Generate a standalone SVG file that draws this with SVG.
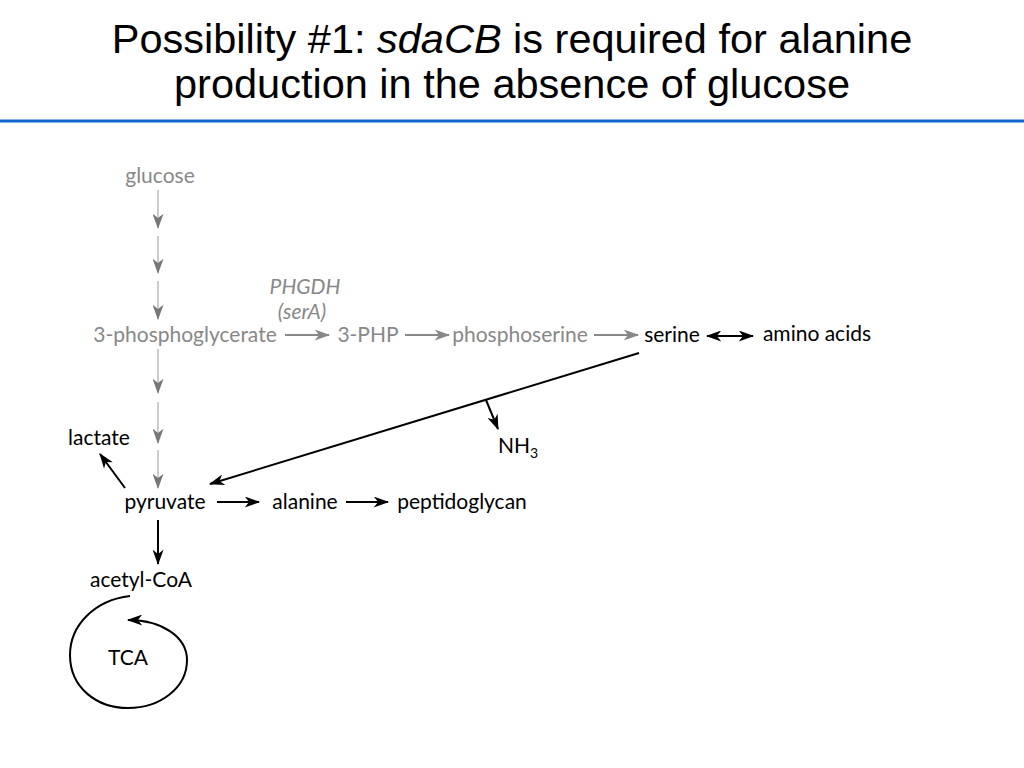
<svg xmlns="http://www.w3.org/2000/svg" width="1024" height="768" viewBox="0 0 1024 768">
<style>
.title{font-family:"Liberation Sans",Arial,sans-serif;font-size:41.5px;fill:#000;text-anchor:middle}
.lbl{font-family:Lato,"Open Sans",sans-serif;font-size:21px;fill:#000;text-anchor:middle}
.gray{fill:#888}
.it{font-style:italic}
.c{fill:none;stroke:#000;stroke-width:2}
.cg{fill:none;stroke:#888;stroke-width:2}
.cv{fill:none;stroke:#ccc;stroke-width:2}
</style>
<defs>
<marker id="ab" viewBox="0 0 14 10" refX="13" refY="5" markerWidth="17" markerHeight="11" markerUnits="userSpaceOnUse" orient="auto-start-reverse">
<path d="M0,0 L14,5 L0,10 L4,5 z" fill="#000"/>
</marker>
<marker id="ag" viewBox="0 0 14 10" refX="13" refY="5" markerWidth="17" markerHeight="11" markerUnits="userSpaceOnUse" orient="auto">
<path d="M0,0 L14,5 L0,10 L4,5 z" fill="#888"/>
</marker>
<marker id="av" viewBox="0 0 14 10" refX="13" refY="5" markerWidth="17" markerHeight="11" markerUnits="userSpaceOnUse" orient="auto">
<path d="M0,0 L14,5 L0,10 L4,5 z" fill="#777"/>
</marker>
</defs>

<g id="title">
<text class="title" x="512" y="53">Possibility #1: <tspan font-style="italic">sdaCB</tspan> is required for alanine</text>
<text class="title" x="512" y="98">production in the absence of glucose</text>
<line x1="0" y1="121" x2="1024" y2="121" stroke="#1166cc" stroke-width="3"/>
</g>

<g id="connectors">
<line class="cv" x1="158" y1="190" x2="158" y2="228" marker-end="url(#av)"/>
<line class="cv" x1="158" y1="236" x2="158" y2="273" marker-end="url(#av)"/>
<line class="cv" x1="158" y1="281" x2="158" y2="319" marker-end="url(#av)"/>
<line class="cv" x1="158" y1="349" x2="158" y2="393" marker-end="url(#av)"/>
<line class="cv" x1="158" y1="402" x2="158" y2="443" marker-end="url(#av)"/>
<line class="cv" x1="158" y1="450" x2="158" y2="488" marker-end="url(#av)"/>
<line class="cg" x1="285" y1="335" x2="329" y2="335" marker-end="url(#ag)"/>
<line class="cg" x1="405" y1="335" x2="449" y2="335" marker-end="url(#ag)"/>
<line class="cg" x1="594" y1="335" x2="638" y2="335" marker-end="url(#ag)"/>
<line class="c" x1="707" y1="336" x2="753" y2="336" marker-start="url(#ab)" marker-end="url(#ab)"/>
<line class="c" x1="639" y1="353" x2="210" y2="484" marker-end="url(#ab)"/>
<line class="c" x1="486" y1="400" x2="498" y2="429" marker-end="url(#ab)"/>
<line class="c" x1="125" y1="488" x2="100" y2="454" marker-end="url(#ab)"/>
<line class="c" x1="217" y1="502" x2="259" y2="502" marker-end="url(#ab)"/>
<line class="c" x1="346" y1="502" x2="388" y2="502" marker-end="url(#ab)"/>
<line class="c" x1="158" y1="520" x2="158" y2="564" marker-end="url(#ab)"/>
<path class="c" d="M130,596 C95,600 70,625 70,655 C70,688 97,708 128,708 C160,708 187,688 187,660 C187,637 162,620 128,620" marker-end="url(#ab)"/>
</g>

<g id="glucose"><text class="lbl gray" x="160" y="183">glucose</text></g>
<g id="pg3"><text class="lbl gray" x="185" y="342">3-phosphoglycerate</text></g>
<g id="phgdh"><text class="lbl gray it" x="305" y="294">PHGDH</text><text class="lbl gray it" x="302" y="319">(serA)</text></g>
<g id="php3"><text class="lbl gray" x="368" y="342">3-PHP</text></g>
<g id="phosphoserine"><text class="lbl gray" x="520" y="342">phosphoserine</text></g>
<g id="serine"><text class="lbl" x="672" y="342">serine</text></g>
<g id="aminoacids"><text class="lbl" x="817" y="341">amino acids</text></g>
<g id="nh3"><text class="lbl" x="518" y="453">NH<tspan font-size="14" dy="5">3</tspan></text></g>
<g id="lactate"><text class="lbl" x="99" y="445">lactate</text></g>
<g id="pyruvate"><text class="lbl" x="165" y="509">pyruvate</text></g>
<g id="alanine"><text class="lbl" x="305" y="509">alanine</text></g>
<g id="peptidoglycan"><text class="lbl" x="462" y="509">peptidoglycan</text></g>
<g id="acetylcoa"><text class="lbl" x="141" y="587">acetyl-CoA</text></g>
<g id="tca"><text class="lbl" x="128" y="665">TCA</text></g>
</svg>
